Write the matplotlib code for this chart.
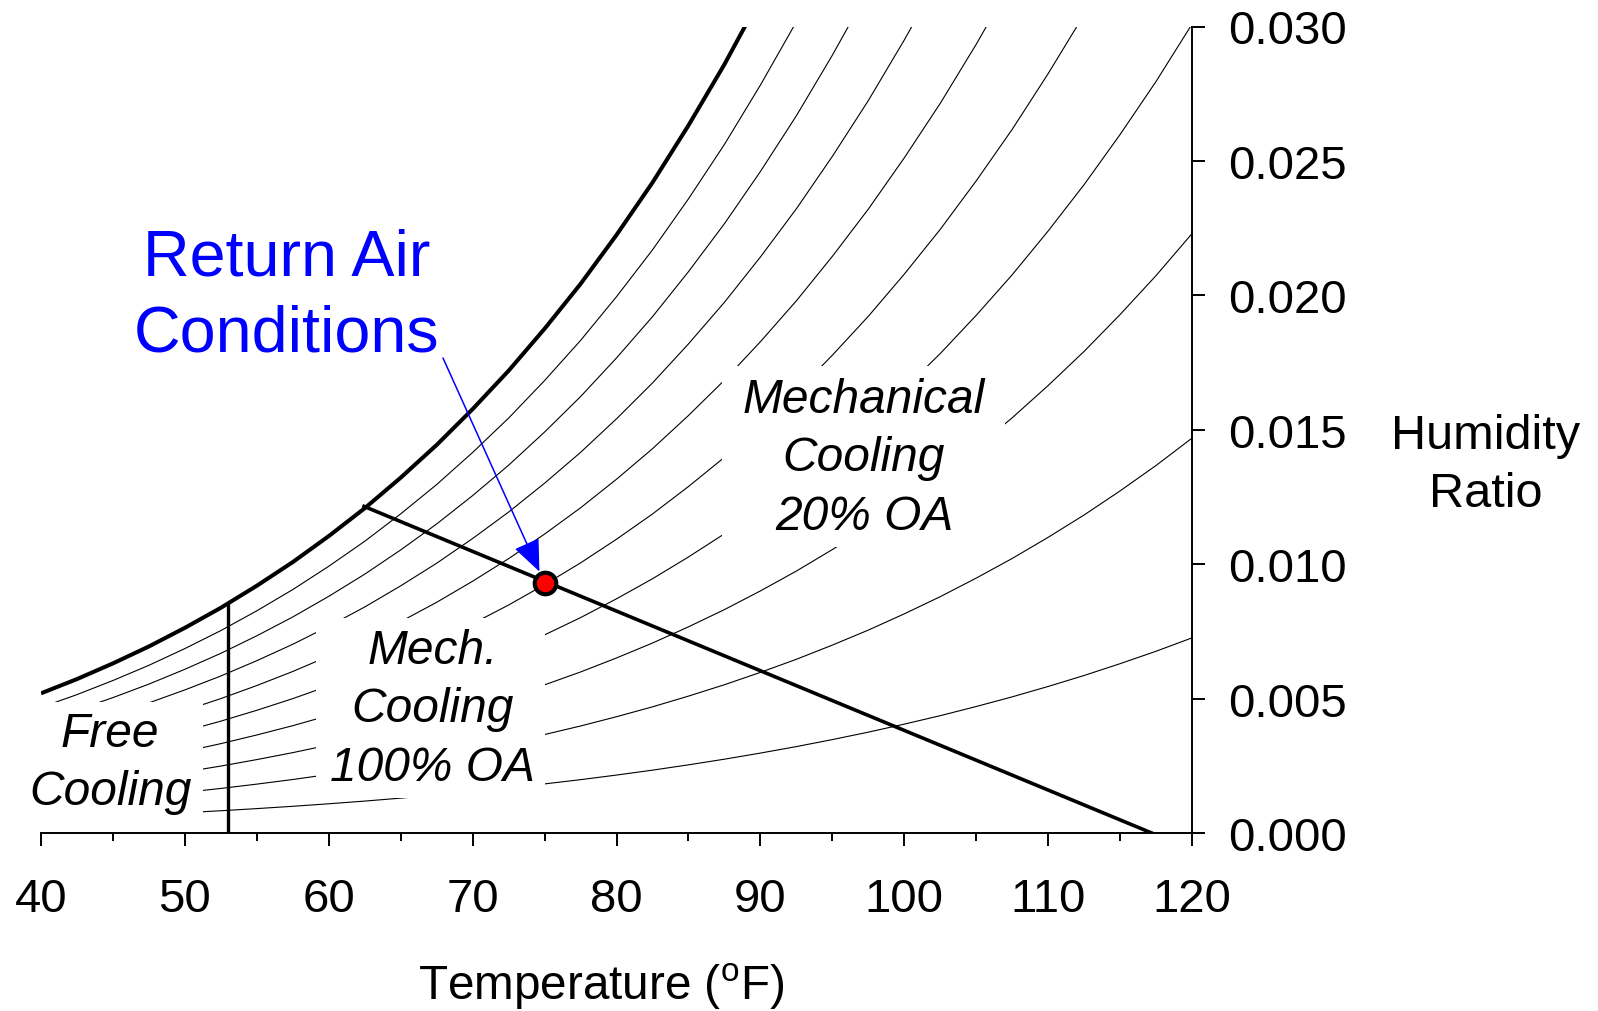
import numpy as np
import matplotlib
matplotlib.use("Agg")
import matplotlib.pyplot as plt
from matplotlib.patches import Rectangle
from matplotlib.ticker import MultipleLocator, FormatStrFormatter

plt.rcParams['font.family'] = ['Liberation Sans', 'DejaVu Sans']
plt.rcParams['mathtext.fontset'] = 'custom'
plt.rcParams['mathtext.rm'] = 'Liberation Sans'
plt.rcParams['mathtext.it'] = 'Liberation Sans:italic'

# ---------------- data ----------------
# dry-bulb temperature (F) and saturation vapour pressure of water (psia), table values
temps_F = [40, 42.5, 45, 47.5, 50, 52.5, 55, 57.5, 60, 62.5, 65, 67.5, 70, 72.5,
           75, 77.5, 80, 82.5, 85, 87.5, 90, 92.5, 95, 97.5, 100, 102.5, 105,
           107.5, 110, 112.5, 115, 117.5, 120]
p_sat_psia = [0.12173, 0.13403, 0.14756, 0.16213, 0.17813, 0.19530, 0.21413,
              0.23431, 0.25638, 0.27999, 0.30578, 0.33332, 0.36334, 0.39534,
              0.43016, 0.46721, 0.50745, 0.55022, 0.59659, 0.64579, 0.69904,
              0.75546, 0.81643, 0.88092, 0.95051, 1.02401, 1.1032, 1.18678,
              1.2767, 1.37139, 1.4731, 1.58021, 1.6951]
p_atm_psia = 14.696
rh_levels = [0.1, 0.2, 0.3, 0.4, 0.5, 0.6, 0.7, 0.8, 0.9]

# economizer limit (vertical line) and constant-enthalpy line through return air
free_cooling_T = [53.0, 53.0]
free_cooling_w = [0.0, 0.0085]
enthalpy_T = [62.45, 117.2]
enthalpy_w = [0.01215, 0.0]
return_air_T = [75.0]
return_air_w = [0.0093]

x_ticks = [40, 50, 60, 70, 80, 90, 100, 110, 120]
y_ticks = [0.000, 0.005, 0.010, 0.015, 0.020, 0.025, 0.030]

# ---------------- figure ----------------
fig = plt.figure(figsize=(15.98, 10.12), dpi=100)
ax = fig.add_axes([41 / 1598, 1 - 834 / 1012, (1192 - 41) / 1598, (834 - 27.5) / 1012])

T = np.array(temps_F)
ps = np.array(p_sat_psia)

def hum_ratio(phi):
    pv = phi * ps
    return 0.622 * pv / (p_atm_psia - pv)

for phi in rh_levels:
    ax.plot(T, hum_ratio(phi), color='black', lw=0.8, zorder=2)

ax.plot(T, hum_ratio(1.0), color='black', lw=2.9, zorder=4, solid_capstyle='butt')

# white knock-out boxes behind the region labels
for (x0, x1, y0, y1) in [(39.0, 51.25, 0.00012, 0.00487),
                         (59.1, 75.0, 0.00130, 0.00798),
                         (87.3, 107.0, 0.01064, 0.01737)]:
    ax.add_patch(Rectangle((x0, y0), x1 - x0, y1 - y0, facecolor='white',
                           edgecolor='none', zorder=3))

ax.plot(free_cooling_T, free_cooling_w, color='black', lw=2.4, zorder=4)
ax.plot(enthalpy_T, enthalpy_w, color='black', lw=2.6, zorder=4)

ax.plot(return_air_T, return_air_w, 'o', ms=15.5, mfc='#ff0000', mec='black',
        mew=3, zorder=7, clip_on=False)

ax.annotate('', xy=(return_air_T[0], return_air_w[0]), xytext=(67.94, 0.01767),
            arrowprops=dict(arrowstyle='-|>,head_length=1.0,head_width=0.42',
                            mutation_scale=20, color='blue', lw=1.1,
                            shrinkA=0, shrinkB=9), zorder=6)

# labels
ax.text(57.1, 0.02001, 'Return Air\nConditions', color='blue', fontsize=46.5,
        ha='center', va='center', linespacing=1.34, zorder=6)
ax.text(97.2, 0.01396, 'Mechanical\nCooling\n20% OA', fontsize=34.5, style='italic',
        ha='center', va='center', linespacing=1.39, zorder=6)
ax.text(67.2, 0.00462, 'Mech.\nCooling\n100% OA', fontsize=34.5, style='italic',
        ha='center', va='center', linespacing=1.39, zorder=6)
ax.text(44.8, 0.00262, 'Free\nCooling', fontsize=34.5, style='italic',
        ha='center', va='center', linespacing=1.39, zorder=6)
ax.text(140.4, 0.01369, 'Humidity\nRatio', fontsize=35, ha='center', va='center',
        linespacing=1.37, clip_on=False)
ax.text(78.9, -0.00568, r'Temperature ($^{\mathrm{o}}$F)', fontsize=34.3,
        ha='center', va='center', clip_on=False)

# axes styling
ax.set_xlim(40, 120)
ax.set_ylim(0, 0.030)
ax.spines['left'].set_visible(False)
ax.spines['top'].set_visible(False)
for s in ('right', 'bottom'):
    ax.spines[s].set_linewidth(1.4)
    ax.spines[s].set_zorder(5)
ax.yaxis.tick_right()
ax.set_xticks(x_ticks)
ax.set_yticks(y_ticks)
ax.xaxis.set_minor_locator(MultipleLocator(5))
ax.yaxis.set_major_formatter(FormatStrFormatter('%.3f'))
ax.tick_params(axis='x', which='major', direction='out', length=9, width=1.4,
               labelsize=34, pad=23)
ax.tick_params(axis='x', which='minor', direction='out', length=6, width=1.4)
ax.tick_params(axis='y', which='major', direction='out', length=9, width=1.4,
               labelsize=34, pad=17, right=True, left=False)

fig.savefig('out.png', dpi=100)
